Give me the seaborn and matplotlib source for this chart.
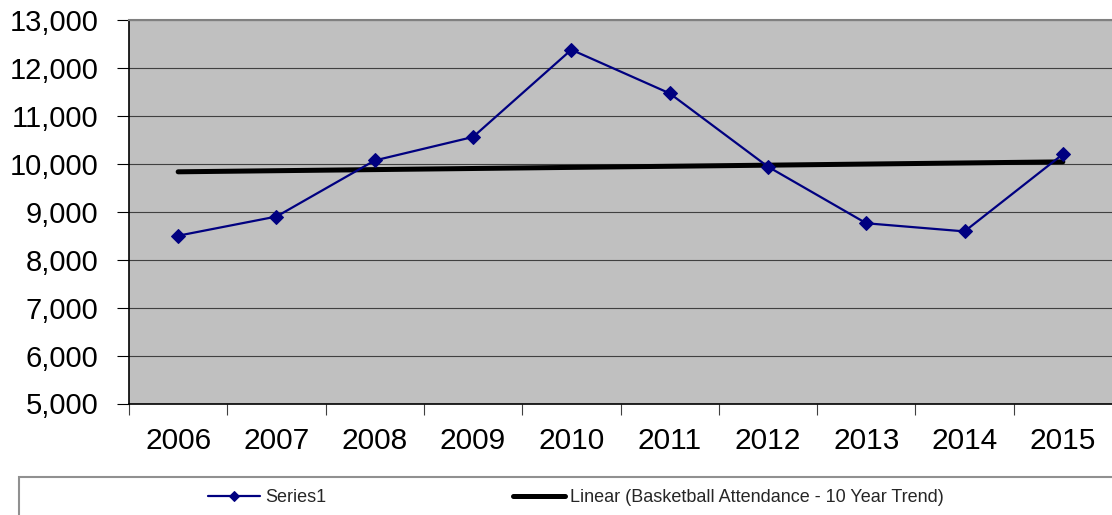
import matplotlib
matplotlib.use("Agg")
import matplotlib.pyplot as plt
from matplotlib.patches import Rectangle
from matplotlib.ticker import FixedLocator
import seaborn as sns
import numpy as np
import pandas as pd

# ---- data ----
years = [2006, 2007, 2008, 2009, 2010, 2011, 2012, 2013, 2014, 2015]
attendance = [8500, 8900, 10070, 10560, 12380, 11470, 9940, 8760, 8590, 10200]
y_ticks = [5000, 6000, 7000, 8000, 9000, 10000, 11000, 12000, 13000]
series_label = "Series1"
trend_label = "Linear (Basketball Attendance - 10 Year Trend)"

df = pd.DataFrame({"year": years, "attendance": attendance})

sns.set_theme(style="white")
plt.rcParams["font.family"] = ["Liberation Sans", "DejaVu Sans"]

W, H = 1112, 515
fig = plt.figure(figsize=(W / 100, H / 100), dpi=100)
ax = fig.add_axes([129 / W, 1 - 403.5 / H, (W - 129) / W, (403.5 - 20) / H])
ax.set_facecolor("#C0C0C0")

# trend line (linear fit, as Excel's trendline)
sns.regplot(data=df, x="year", y="attendance", ax=ax, scatter=False, ci=None,
            truncate=True, line_kws=dict(color="black", lw=3.6, solid_capstyle="round",
                                         zorder=3))
trend_line = ax.lines[-1]
trend_line.set_label(trend_label)

# data series
sns.lineplot(data=df, x="year", y="attendance", ax=ax, color="#000080", lw=1.6,
             marker="D", markersize=7.2, markeredgecolor="#000080",
             markerfacecolor="#000080", zorder=4, legend=False)
series_line = ax.lines[-1]
series_line.set_label(series_label)

ax.set_xlim(years[0] - 0.5, years[-1] + 0.5)
ax.set_ylim(y_ticks[0], y_ticks[-1])
ax.set_xlabel("")
ax.set_ylabel("")

ax.yaxis.set_major_locator(FixedLocator(y_ticks))
ax.set_yticklabels([f"{v:,}" for v in y_ticks])
ax.xaxis.set_major_locator(FixedLocator(years))
ax.set_xticklabels([str(y) for y in years])
ax.xaxis.set_minor_locator(FixedLocator([y - 0.5 for y in years]))

ax.tick_params(axis="y", which="major", length=9, width=0.8, color="black",
               direction="out", left=True, labelsize=21, pad=13, labelcolor="black")
ax.tick_params(axis="x", which="major", length=0, labelsize=21.5, pad=17, labelcolor="black")
ax.tick_params(axis="x", which="minor", length=8, width=0.8, color="#404040",
               direction="out", bottom=True)

ax.grid(axis="y", color="#404040", lw=0.8)
ax.grid(axis="x", visible=False)
ax.set_axisbelow(True)

for s in ["left", "bottom"]:
    ax.spines[s].set_color("black")
    ax.spines[s].set_linewidth(1.2)
ax.spines["top"].set_color("#808080")
ax.spines["top"].set_linewidth(1.5)
ax.spines["right"].set_visible(False)

# legend box
fig.patches.append(Rectangle((19 / W, -0.05), 1.0, (1 - 477 / H) + 0.05,
                             transform=fig.transFigure, facecolor="white",
                             edgecolor="#909090", lw=1.5, zorder=0))
leg = fig.legend([series_line, trend_line], [series_label, trend_label],
                 loc="center left", bbox_to_anchor=(208 / W, 1 - 498 / H),
                 ncol=2, frameon=False, fontsize=13, borderpad=0,
                 handlelength=2.88, handletextpad=0.3, columnspacing=10.3,
                 markerscale=0.7, borderaxespad=0)

fig.savefig("out.png", dpi=100)
